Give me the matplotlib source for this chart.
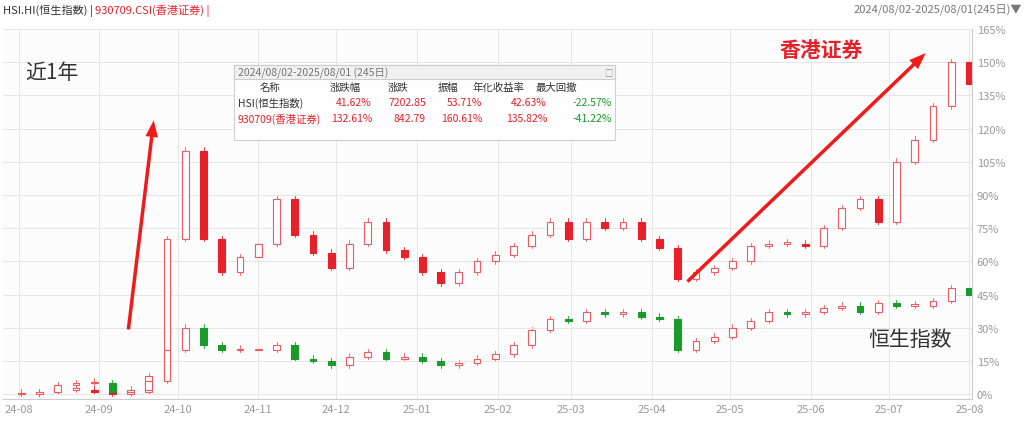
import numpy as np
import pandas as pd
import matplotlib.pyplot as plt
import matplotlib.dates as mdates
from matplotlib import font_manager
from matplotlib.patches import Rectangle

cjk = [f.name for f in font_manager.fontManager.ttflist if 'CJK' in f.name]
plt.rcParams['font.family'] = (['Noto Sans CJK SC'] if 'Noto Sans CJK SC' in cjk else cjk[:1]) + ['DejaVu Sans']

# weekly closes, % change since 2024-08-02
dates = pd.date_range('2024-08-02', '2025-08-01', freq='W-FRI')
hk_sec = [0, 1, 2, 2, 1, 0, 1, 8, 70, 110, 70, 55, 62, 68, 88, 72, 64, 57, 68, 78, 65, 62,
          55, 50, 55, 60, 63, 67, 72, 78, 70, 78, 75, 78, 70, 66, 52, 55, 57, 60, 67, 68,
          68, 67, 75, 84, 88, 78, 105, 115, 130, 150, 140]
hsi = [0, 1, 4, 5, 5, 1, 2, 6, 20, 30, 22, 20, 20, 20, 22, 16, 15, 13, 17, 19, 16, 17,
       15, 13, 14, 16, 18, 22, 29, 34, 33, 37, 36, 37, 35, 34, 20, 24, 26, 30, 33, 37,
       36, 37, 39, 40, 37, 41, 40, 40, 42, 48, 45]
yticks = [0, 15, 30, 45, 60, 75, 90, 105, 120, 135, 150, 165]

fig = plt.figure(figsize=(10.24, 4.27), dpi=100)
ax = fig.add_axes([3 / 1024, 27 / 427, 969 / 1024, 370 / 427])


def candles(vals, up_col, down_col):
    prev = 0
    for d, c in zip(dates, vals):
        o = prev
        lo, hi = min(o, c), max(o, c)
        if hi - lo < 0.6:
            hi = lo + 0.6
        x = mdates.date2num(d)
        col = up_col if c >= o else down_col
        ax.plot([x, x], [lo - 1, hi + 1.5], color=col, lw=0.6, zorder=1)
        ax.add_patch(Rectangle((x - 1.3, lo), 2.6, hi - lo, facecolor='white' if c >= o else col,
                               edgecolor=col, lw=0.8, zorder=2))
        prev = c


candles(hk_sec, '#ee5a60', '#e8202a')
candles(hsi, '#ee5a60', '#1a9a2a')

ax.set_xlim(mdates.date2num(pd.Timestamp('2024-07-26')), mdates.date2num(pd.Timestamp('2025-08-02')))
ax.set_ylim(-2.2, 161)
ax.yaxis.tick_right()
ax.set_yticks(yticks)
ax.set_yticklabels([f'{v}%' for v in yticks])
ax.xaxis.set_major_locator(mdates.MonthLocator())
ax.xaxis.set_major_formatter(mdates.DateFormatter('%y-%m'))
ax.tick_params(colors='#999999', labelsize=8, length=0)
ax.grid(True, color='#e6e6e6', lw=0.7)
ax.set_facecolor('#fcfcfc')
for s in ['top', 'left']:
    ax.spines[s].set_visible(False)
for s in ['bottom', 'right']:
    ax.spines[s].set_color('#cccccc')

# header
fig.text(0.003, 0.975, 'HSI.HI(恒生指数) |', fontsize=8, color='#333333', va='center')
fig.text(0.093, 0.975, '930709.CSI(香港证券) |', fontsize=8, color='#e8202a', va='center')
fig.text(0.998, 0.975, '2024/08/02-2025/08/01(245日)▼', fontsize=8, color='#777777', va='center', ha='right')

fig.text(25 / 1024, 1 - 73 / 427, '近1年', fontsize=15, color='#333333', va='center')
fig.text(780 / 1024, 1 - 50 / 427, '香港证券', fontsize=15, color='#e8202a', va='center', fontweight='bold')
fig.text(868 / 1024, 1 - 340 / 427, '恒生指数', fontsize=15, color='#333333', va='center')

# arrows
arrow = dict(arrowstyle='simple,head_width=0.9,head_length=1.2,tail_width=0.25', color='#f01a1a', lw=0)
ax.annotate('', xy=(mdates.date2num(pd.Timestamp('2024-09-22')), 125),
            xytext=(mdates.date2num(pd.Timestamp('2024-09-12')), 28), arrowprops=arrow)
ax.annotate('', xy=(mdates.date2num(pd.Timestamp('2025-07-16')), 155),
            xytext=(mdates.date2num(pd.Timestamp('2025-04-14')), 50), arrowprops=arrow)

# stats table
fig.patches.append(Rectangle((234 / 1024, 1 - 141 / 427), 381 / 1024, 75 / 427, transform=fig.transFigure,
                             facecolor='white', edgecolor='#cccccc', lw=0.8, alpha=0.95))
fig.patches.append(Rectangle((234 / 1024, 1 - 80 / 427), 381 / 1024, 14 / 427, transform=fig.transFigure,
                             facecolor='#f0f0f0', edgecolor='#cccccc', lw=0.8))
fig.text(238 / 1024, 1 - 73 / 427, '2024/08/02-2025/08/01 (245日)', fontsize=7.5, color='#777777', va='center')
fig.text(608 / 1024, 1 - 73 / 427, '□', fontsize=6, color='#999999', va='center', ha='center')
cols = ['名称', '涨跌幅', '涨跌', '振幅', '年化收益率', '最大回撤']
hsi_row = ['HSI(恒生指数)', '41.62%', '7202.85', '53.71%', '42.63%', '-22.57%']
hk_row = ['930709(香港证券)', '132.61%', '842.79', '160.61%', '135.82%', '-41.22%']
col_x = [270, 345, 398, 448, 498, 556]
row_x = [238, 372, 426, 482, 547, 612]
for i, c in enumerate(cols):
    fig.text(col_x[i] / 1024, 1 - 88 / 427, c, fontsize=7.5, color='#333333', va='center', ha='center')
for row, y, col in [(hsi_row, 103, '#333333'), (hk_row, 119, '#e8202a')]:
    for i, v in enumerate(row):
        c = col if i == 0 else ('#1a9a2a' if v.startswith('-') else '#e8202a')
        fig.text(row_x[i] / 1024, 1 - y / 427, v, fontsize=7.5, color=c, va='center',
                 ha='left' if i == 0 else 'right')

fig.savefig('out.png', dpi=100, facecolor='white')
